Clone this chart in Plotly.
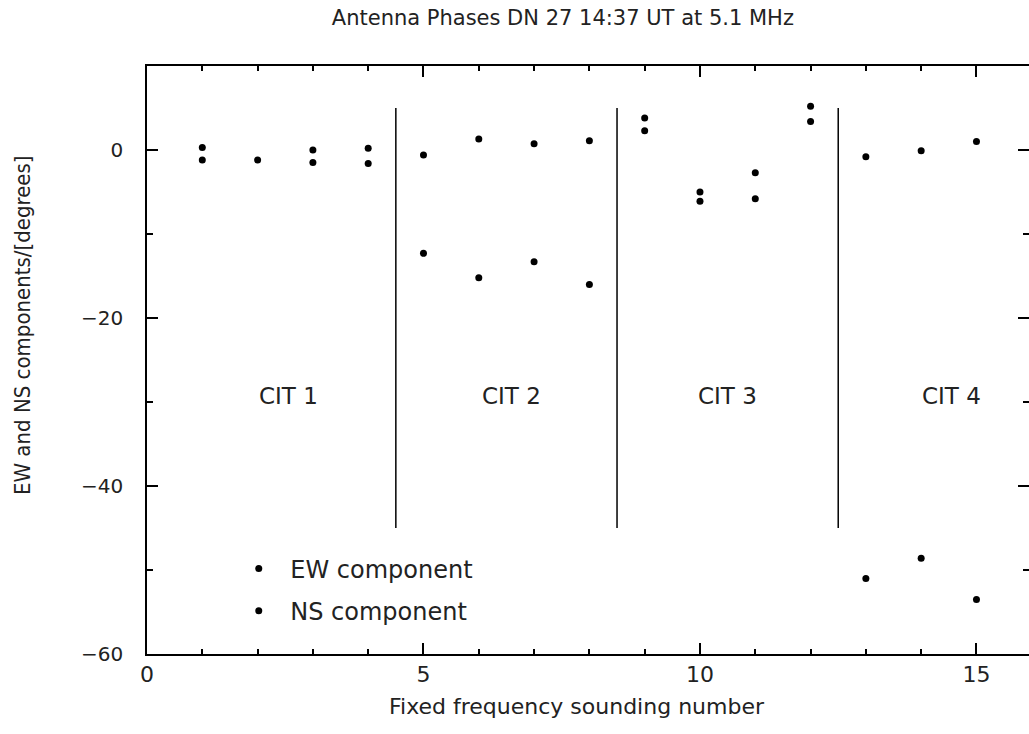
import plotly.graph_objects as go

sounding = [1, 2, 3, 4, 5, 6, 7, 8, 9, 10, 11, 12, 13, 14, 15]
ew_phase = [0.3, -1.2, 0.0, 0.2, -0.6, 1.3, 0.75, 1.1, 3.8, -5.0, -2.7, 5.2, -0.8, -0.1, 1.0]
ns_phase = [-1.2, None, -1.5, -1.6, -12.3, -15.2, -13.3, -16.0, 2.3, -6.1, -5.8, 3.4, -51.0, -48.6, -53.5]
cit_labels = ["CIT 1", "CIT 2", "CIT 3", "CIT 4"]
cit_centers = [2.55, 6.6, 10.5, 14.55]
cit_bounds = [4.5, 8.5, 12.5]

FONT = "DejaVu Sans"
TXT = "#222"

fig = go.Figure()
fig.add_trace(go.Scatter(x=sounding, y=ew_phase, mode="markers", name="EW component",
                         legendgroup="ew",
                         marker=dict(color="black", size=7)))
fig.add_trace(go.Scatter(x=sounding, y=ns_phase, mode="markers", name="NS component",
                         legendgroup="ns",
                         marker=dict(color="black", size=7)))
# invisible trace to carry right-hand tick marks
fig.add_trace(go.Scatter(x=[None], y=[None], yaxis="y2", showlegend=False, hoverinfo="skip"))

for b in cit_bounds:
    fig.add_shape(type="line", x0=b, x1=b, y0=-45, y1=5, xref="x", yref="y",
                  line=dict(color="black", width=1.5))

for lbl, cx in zip(cit_labels, cit_centers):
    fig.add_annotation(x=cx, y=-29.3, text=lbl, showarrow=False,
                       font=dict(family=FONT, size=23, color=TXT))

# axis titles placed as annotations to match the original offsets
fig.add_annotation(text="Fixed frequency sounding number", xref="paper", yref="paper",
                   x=(577 - 147) / 882, y=(654 - 706) / 588, showarrow=False,
                   xanchor="center", yanchor="middle",
                   font=dict(family=FONT, size=22, color=TXT))
fig.add_annotation(text="EW and NS components/[degrees]", xref="paper", yref="paper",
                   x=(22 - 147) / 882, y=(654 - 325) / 588, showarrow=False, textangle=-90,
                   xanchor="center", yanchor="middle",
                   font=dict(family="DejaVu Sans Condensed", size=22, color=TXT))

yticks_common = dict(range=[-60, 10], tickvals=[-60, -40, -20, 0], ticks="inside", ticklen=11,
                     tickwidth=1.5, tickcolor="black",
                     minor=dict(tickvals=[-50, -30, -10], ticks="inside", ticklen=6,
                                tickwidth=1.5, tickcolor="black"),
                     showgrid=False, zeroline=False)

fig.update_layout(
    width=1029, height=734,
    margin=dict(l=147, r=0, t=66, b=80),
    paper_bgcolor="white", plot_bgcolor="white",
    title=dict(text="Antenna Phases DN 27 14:37 UT at 5.1 MHz", x=0.547, xanchor="center",
               y=1 - 18 / 734, yanchor="middle",
               font=dict(family=FONT, size=21, color=TXT)),
    showlegend=True,
    legend=dict(x=0.091, y=0.183, xanchor="left", yanchor="top", traceorder="grouped",
                tracegroupgap=8, bgcolor="rgba(0,0,0,0)", itemwidth=53,
                font=dict(family=FONT, size=24, color=TXT)),
    xaxis=dict(range=[0, 15.95], tickvals=[0, 5, 10, 15], ticktext=["0", "5", "10", "15"],
               ticks="inside", ticklen=11, tickwidth=1.5, tickcolor="black",
               minor=dict(dtick=1, ticks="inside", ticklen=5, tickwidth=1.5, tickcolor="black"),
               showline=True, linecolor="black", linewidth=1.5, mirror="ticks",
               showgrid=False, zeroline=False,
               tickfont=dict(family=FONT, size=22, color=TXT)),
    yaxis=dict(**yticks_common,
               ticktext=["\u221260", "\u221240", "\u221220", "0"],
               showline=True, linecolor="black", linewidth=1.5, mirror=False,
               ticklabelstandoff=18,
               tickfont=dict(family=FONT, size=20, color=TXT)),
    yaxis2=dict(**yticks_common, overlaying="y", side="right", matches="y",
                showticklabels=False, showline=False),
)

fig.write_html("out.html")
